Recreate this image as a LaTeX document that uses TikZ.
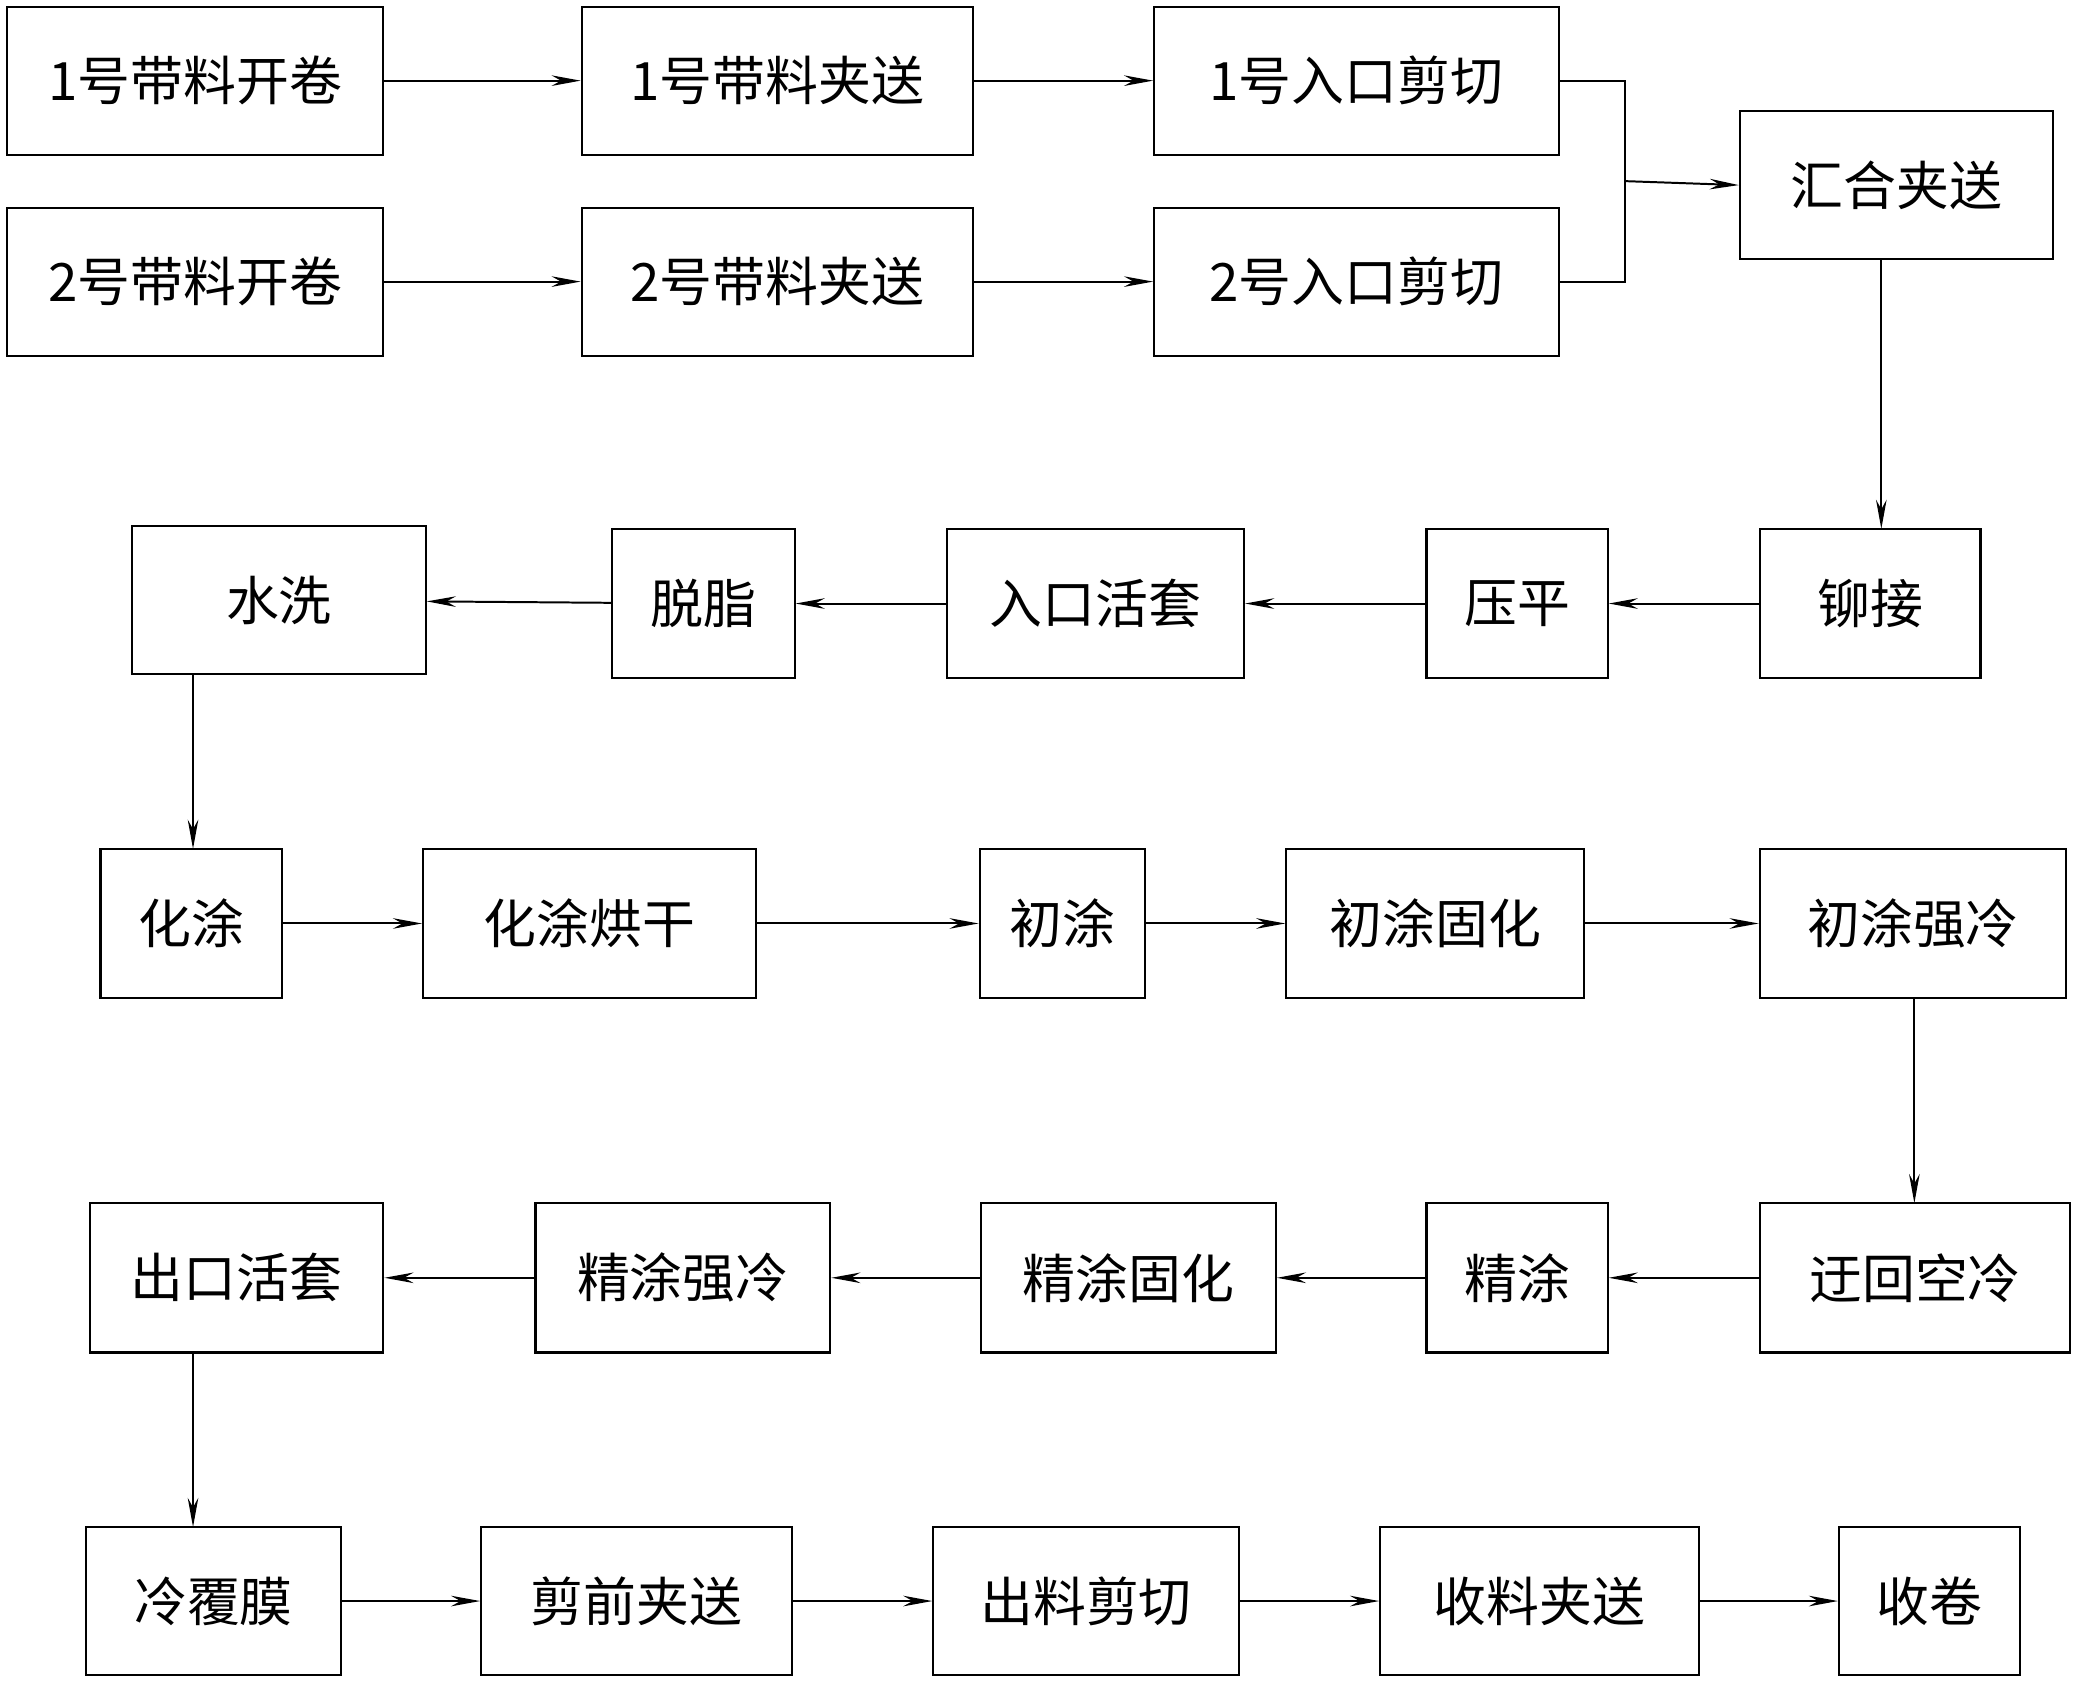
\documentclass[tikz,border=0pt]{standalone}
\usepackage{fontspec}
\newfontfamily\cjk{Noto Sans CJK SC}
\usetikzlibrary{arrows.meta}
\newcommand{\bx}[6]{\node[box,minimum width={(#4-#2)*1pt},minimum height={(#5-#3)*1pt}] (#1) at ({(#2+#4)/2},{(#3+#5)/2}) {#6};}
\begin{document}
\begin{tikzpicture}[x=1pt,y=-1pt,
  box/.style={draw,line width=1.6pt,inner sep=0pt,font=\cjk\fontsize{40}{40}\selectfont},
  ar/.style={line width=1.5pt,-{Stealth[length=22pt,width=8pt]}},
  ln/.style={line width=1.5pt}]
\useasboundingbox (0,0) rectangle (1568,1272);
\bx{a1}{5}{5}{290}{117}{1号带料开卷}
\bx{a2}{440}{5}{736}{117}{1号带料夹送}
\bx{a3}{873}{5}{1179}{117}{1号入口剪切}
\bx{b1}{5}{157}{290}{269}{2号带料开卷}
\bx{b2}{440}{157}{736}{269}{2号带料夹送}
\bx{b3}{873}{157}{1179}{269}{2号入口剪切}
\bx{hh}{1316}{84}{1553}{196}{汇合夹送}
\bx{c1}{100}{398}{322}{510}{水洗}
\bx{c2}{463}{400}{601}{513}{脱脂}
\bx{c3}{716}{400}{941}{513}{入口活套}
\bx{c4}{1079}{400}{1216}{513}{压平}
\bx{c5}{1331}{400}{1498}{513}{铆接}
\bx{d1}{76}{642}{213}{755}{化涂}
\bx{d2}{320}{642}{572}{755}{化涂烘干}
\bx{d3}{741}{642}{866}{755}{初涂}
\bx{d4}{973}{642}{1198}{755}{初涂固化}
\bx{d5}{1331}{642}{1563}{755}{初涂强冷}
\bx{e1}{68}{910}{290}{1023}{出口活套}
\bx{e2}{405}{910}{628}{1023}{精涂强冷}
\bx{e3}{742}{910}{965}{1023}{精涂固化}
\bx{e4}{1079}{910}{1216}{1023}{精涂}
\bx{e5}{1331}{910}{1566}{1023}{迂回空冷}
\bx{f1}{65}{1155}{258}{1267}{冷覆膜}
\bx{f2}{364}{1155}{599}{1267}{剪前夹送}
\bx{f3}{706}{1155}{937}{1267}{出料剪切}
\bx{f4}{1044}{1155}{1285}{1267}{收料夹送}
\bx{f5}{1391}{1155}{1528}{1267}{收卷}
\coordinate (m) at (1229,137);
\draw[ar] (a1)--(a2); \draw[ar] (a2)--(a3);
\draw[ar] (b1)--(b2); \draw[ar] (b2)--(b3);
\draw[ln] (a3.east) -| (m) |- (b3.east);
\draw[ar] (m)--(hh.west);
\draw[ar] (hh.south -| 1423,0)--(1423,400);
\draw[ar] (c5)--(c4); \draw[ar] (c4)--(c3); \draw[ar] (c3)--(c2); \draw[ar] (c2)--(c1);
\draw[ar] (146,510)--(146,642);
\draw[ar] (d1)--(d2); \draw[ar] (d2)--(d3); \draw[ar] (d3)--(d4); \draw[ar] (d4)--(d5);
\draw[ar] (1448,755)--(1448,910);
\draw[ar] (e5)--(e4); \draw[ar] (e4)--(e3); \draw[ar] (e3)--(e2); \draw[ar] (e2)--(e1);
\draw[ar] (146,1023)--(146,1155);
\draw[ar] (f1)--(f2); \draw[ar] (f2)--(f3); \draw[ar] (f3)--(f4); \draw[ar] (f4)--(f5);
\end{tikzpicture}
\end{document}
